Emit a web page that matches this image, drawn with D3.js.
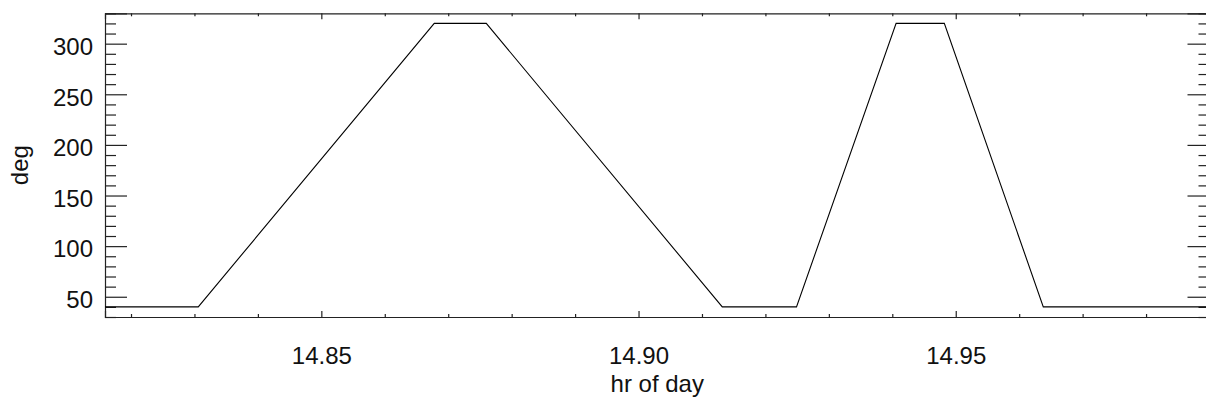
<!DOCTYPE html>
<html>
<head>
<meta charset="utf-8">
<script src="https://cdn.jsdelivr.net/npm/d3@7"></script>
<style>
  html, body { margin: 0; padding: 0; background: #fff; }
  svg { display: block; }
  text { font-family: "Liberation Sans", Arial, Helvetica, sans-serif; fill: #111; }
</style>
</head>
<body>
<script>
// ---- data ----
const hours = [14.8159, 14.8306, 14.8678, 14.8760, 14.9132, 14.9249, 14.9406, 14.9482, 14.9638, 14.9900];
const degs  = [40, 40, 320, 320, 40, 40, 320, 320, 40, 40];
const xTickValues = [14.85, 14.90, 14.95];
const xTickLabels = ["14.85", "14.90", "14.95"];
const yTickValues = [50, 100, 150, 200, 250, 300];
const yTickLabels = ["50", "100", "150", "200", "250", "300"];
const xLabel = "hr of day";
const yLabel = "deg";

const W = 1206, H = 404;
const L = 105, R = 1209.5, T = 13.3, B = 317;

const svg = d3.select("body").append("svg").attr("width", W).attr("height", H);

const x = d3.scaleLinear().domain([14.8159, 14.9900]).range([L, R]);
const y = d3.scaleLinear().domain([30, 330]).range([B, T]);

const xMinor = d3.range(14.82, 14.991, 0.01).map(v => +v.toFixed(2)).filter(v => !xTickValues.some(m => Math.abs(m - v) < 1e-6));
const yMinor = d3.range(30, 331, 10).filter(v => v % 50 !== 0);

function styleAxis(g) {
  g.select(".domain").attr("stroke", "#222").attr("stroke-width", 1.2);
  g.selectAll(".tick line").attr("stroke", "#222").attr("stroke-width", 1.2);
}

// bottom axis (major with labels)
const gB = svg.append("g").attr("transform", `translate(0,${B})`)
  .call(d3.axisBottom(x).tickValues(xTickValues).tickSize(-6).tickPadding(30)
        .tickFormat((d, i) => xTickLabels[i]));
styleAxis(gB);
gB.selectAll(".tick text").attr("font-size", 24).attr("fill", "#111")
  .attr("font-family", '"Liberation Sans", Arial, sans-serif');
svg.append("g").attr("transform", `translate(0,${B})`)
  .call(d3.axisBottom(x).tickValues(xMinor).tickSize(-3).tickFormat(""))
  .call(g => { styleAxis(g); g.select(".domain").remove(); });

// top axis
svg.append("g").attr("transform", `translate(0,${T})`)
  .call(d3.axisTop(x).tickValues(xTickValues).tickSize(-6).tickFormat(""))
  .call(styleAxis);
svg.append("g").attr("transform", `translate(0,${T})`)
  .call(d3.axisTop(x).tickValues(xMinor).tickSize(-3).tickFormat(""))
  .call(g => { styleAxis(g); g.select(".domain").remove(); });

// left axis
const gL = svg.append("g").attr("transform", `translate(${L},0)`)
  .call(d3.axisLeft(y).tickValues(yTickValues).tickSize(-22).tickPadding(12)
        .tickFormat((d, i) => yTickLabels[i]));
styleAxis(gL);
gL.selectAll(".tick text").attr("font-size", 24).attr("fill", "#111").attr("dy", "0.45em")
  .attr("font-family", '"Liberation Sans", Arial, sans-serif');
svg.append("g").attr("transform", `translate(${L},0)`)
  .call(d3.axisLeft(y).tickValues(yMinor).tickSize(-11).tickFormat(""))
  .call(g => { styleAxis(g); g.select(".domain").remove(); });

// right axis
svg.append("g").attr("transform", `translate(${R},0)`)
  .call(d3.axisRight(y).tickValues(yTickValues).tickSize(-22).tickFormat(""))
  .call(styleAxis);
svg.append("g").attr("transform", `translate(${R},0)`)
  .call(d3.axisRight(y).tickValues(yMinor).tickSize(-11).tickFormat(""))
  .call(g => { styleAxis(g); g.select(".domain").remove(); });

// data line
const pts = hours.map((h, i) => [h, degs[i]]);
svg.append("path")
  .attr("d", d3.line().x(d => x(d[0])).y(d => y(d[1]))(pts))
  .attr("fill", "none").attr("stroke", "#000").attr("stroke-width", 1.1);

// axis titles
svg.append("text").attr("x", (L + R) / 2).attr("y", 392)
  .attr("text-anchor", "middle").attr("font-size", 24).text(xLabel);
svg.append("text").attr("transform", `translate(28,${(T + B) / 2}) rotate(-90)`)
  .attr("text-anchor", "middle").attr("font-size", 24).text(yLabel);
</script>
</body>
</html>
